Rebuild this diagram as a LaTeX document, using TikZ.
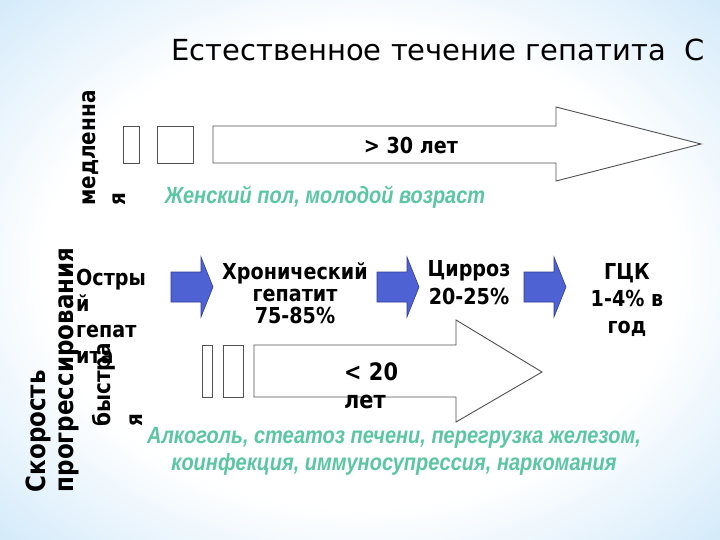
\documentclass[tikz,border=0pt]{standalone}
\usepackage{fontspec}
\setmainfont{DejaVu Sans}
\newfontfamily\slidebold[FakeStretch=0.87]{DejaVu Sans}
\newfontfamily\factorfont[FakeStretch=0.85]{Liberation Sans}
\usetikzlibrary{positioning}

\definecolor{bgblue}{RGB}{165,212,245}
\definecolor{bgedge}{RGB}{132,192,238}
\definecolor{factorgreen}{RGB}{90,198,162}
\definecolor{arrowblue}{RGB}{78,98,212}
\definecolor{arrowedge}{RGB}{48,60,150}
\definecolor{boxline}{RGB}{80,80,80}

\pgfdeclareradialshading{slidebg}{\pgfpoint{0bp}{0bp}}{color(0bp)=(white); color(22bp)=(white); color(50bp)=(bgblue); color(72bp)=(bgedge)}

\tikzset{
  boldtext/.style={font=\slidebold\bfseries\fontsize{22}{22}\selectfont, inner sep=0pt, align=center},
  vertlabel/.style={font=\slidebold\bfseries\fontsize{23}{30}\selectfont, rotate=90, align=left, inner sep=0pt},
  factors/.style={font=\factorfont\bfseries\itshape\fontsize{23.5}{27}\selectfont, text=factorgreen, align=center, inner sep=0pt},
  whitebox/.style={draw=boxline, fill=white, line width=0.9pt},
  bluearrow/.style={draw=arrowedge, fill=arrowblue, line width=0.6pt},
}

\begin{document}
\begin{tikzpicture}[x=1pt,y=-1pt]
\useasboundingbox (0,0) rectangle (720,540);
\shade[shading=slidebg] (0,0) rectangle (720,540);

% title
\node[font=\fontsize{29}{34}\selectfont, inner sep=0pt] (title) at (438,50) {Естественное течение гепатита\ \ С};

% slow course
\draw[whitebox] (123,126) rectangle (139,163);
\draw[whitebox] (157,126) rectangle (193,163);
\draw[whitebox] (213,126) -- (556,126) -- (556,107) -- (701,144) -- (556,181) -- (556,163) -- (213,163) -- cycle;
\node[boldtext] (slowtime) at (411,145) {> 30 лет};
\node[factors] (slowfactors) at (325,197) {Женский пол, молодой возраст};
\node[vertlabel] (slowlbl) at (104,148) {медленна\\я};

% stages
\foreach \x in {171,377,524}
  \draw[bluearrow] (\x,272) -- (\x+30,272) -- (\x+30,257) -- (\x+42,287) -- (\x+30,317) -- (\x+30,302) -- (\x,302) -- cycle;
\node[boldtext, align=left, anchor=north west, font=\slidebold\bfseries\fontsize{22}{26}\selectfont] (acute) at (76,269) {Остры\\й\\гепат\\ита};
\node[boldtext] (chronic) at (295,293) {Хронический\\гепатит\\75-85\%};
\node[boldtext, font=\slidebold\bfseries\fontsize{22}{28}\selectfont] (cirrhosis) at (469,283) {Цирроз\\20-25\%};
\node[boldtext, font=\slidebold\bfseries\fontsize{22}{27}\selectfont] (hcc) at (627,300) {ГЦК\\1-4\% в\\год};

% fast course
\draw[whitebox] (202,345) rectangle (212,397);
\draw[whitebox] (223,345) rectangle (243,397);
\draw[whitebox] (254,345) -- (456,345) -- (456,320) -- (542,372) -- (456,422) -- (456,397) -- (254,397) -- cycle;
\node[boldtext, align=left, anchor=north west, font=\slidebold\bfseries\fontsize{24}{28}\selectfont] (fasttime) at (344,362) {< 20\\лет};
\node[factors] (fastfactors) at (394,451) {Алкоголь, стеатоз печени, перегрузка железом,\\коинфекция, иммуносупрессия, наркомания};
\node[vertlabel, font=\slidebold\bfseries\fontsize{23}{32}\selectfont] (fastlbl) at (117,385) {быстра\\я};

% axis label
\node[vertlabel, font=\slidebold\bfseries\fontsize{26.4}{28}\selectfont] (speed) at (52,370) {Скорость\\прогрессирования};
\end{tikzpicture}
\end{document}
